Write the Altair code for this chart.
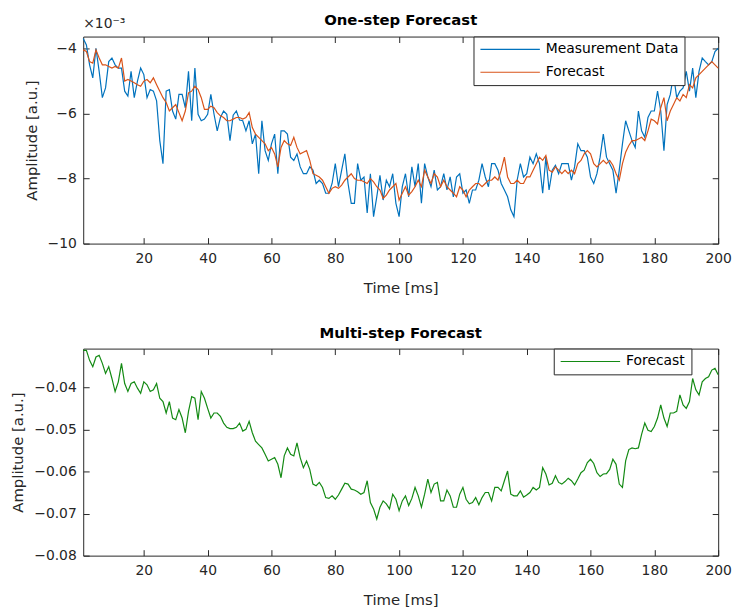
import altair as alt
import pandas as pd

time_ms = list(range(1, 201))

measured = [
    -3.69, -3.89, -4.50, -4.90, -3.99, -4.70, -5.51, -5.21, -4.40, -4.29,
    -4.50, -4.60, -4.60, -5.31, -5.46, -4.70, -5.51, -5.00, -4.60, -4.80,
    -5.51, -5.26, -5.31, -5.61, -6.83, -7.54, -5.31, -5.26, -5.92, -6.17,
    -5.41, -5.41, -5.82, -4.70, -6.22, -4.60, -6.02, -6.22, -6.17, -6.02,
    -5.41, -6.02, -6.53, -6.12, -5.92, -6.02, -6.83, -6.05, -5.92, -6.20,
    -6.22, -6.53, -6.22, -6.93, -6.63, -7.85, -6.22, -7.14, -7.44, -6.93,
    -6.63, -7.85, -6.53, -6.53, -6.63, -7.34, -7.44, -7.24, -7.64, -7.85,
    -7.85, -7.64, -7.74, -8.15, -8.05, -8.15, -8.45, -8.45, -8.15, -7.54,
    -8.25, -7.74, -7.24, -8.15, -8.76, -8.76, -7.54, -8.05, -7.95, -9.06,
    -7.85, -9.17, -8.56, -7.90, -8.66, -8.05, -8.25, -7.85, -8.76, -9.17,
    -8.25, -7.85, -8.56, -7.64, -8.25, -7.54, -8.76, -7.54, -7.95, -8.25,
    -7.74, -8.35, -8.25, -7.85, -8.35, -7.95, -8.56, -7.95, -7.85, -8.45,
    -8.35, -8.76, -8.35, -8.35, -8.05, -7.54, -7.95, -8.25, -7.54, -7.54,
    -7.74, -8.15, -8.35, -8.56, -8.96, -9.17, -8.05, -7.54, -7.95, -7.85,
    -7.34, -7.54, -7.24, -7.54, -8.45, -7.34, -8.35, -7.74, -7.59, -7.85,
    -7.54, -7.54, -7.54, -8.05, -7.64, -6.93, -7.14, -7.14, -7.34, -7.95,
    -8.15, -7.85, -7.34, -6.63, -7.34, -7.54, -7.74, -8.45, -7.74, -6.93,
    -6.22, -6.53, -6.83, -7.04, -5.92, -6.53, -6.73, -6.12, -5.92, -5.92,
    -5.31, -5.92, -7.14, -5.72, -5.41, -4.80, -5.51, -5.31, -5.21, -4.70,
    -5.31, -4.60, -5.51, -4.70, -4.29, -4.40, -4.50, -4.40, -4.09, -3.99,
]

forecast_one = [
    -4.04, -4.09, -4.40, -4.45, -4.04, -4.29, -4.50, -4.50, -4.55, -4.60,
    -4.55, -4.60, -4.29, -5.00, -4.95, -5.00, -5.05, -5.11, -5.16, -5.00,
    -4.95, -5.05, -4.90, -5.11, -5.31, -5.51, -5.66, -5.92, -5.82, -5.72,
    -5.97, -6.22, -5.92, -5.36, -5.31, -5.16, -5.26, -5.51, -5.87, -5.87,
    -5.77, -5.82, -5.97, -6.07, -6.12, -6.22, -6.22, -6.17, -6.12, -6.12,
    -6.17, -6.12, -5.97, -6.43, -6.63, -6.73, -6.83, -6.93, -7.14, -7.04,
    -7.24, -7.64, -7.04, -6.83, -6.93, -6.98, -6.73, -7.04, -7.24, -7.19,
    -7.14, -7.44, -7.85, -7.90, -7.95, -8.05, -8.25, -8.45, -8.30, -8.25,
    -8.30, -8.20, -8.05, -7.95, -7.85, -8.00, -8.05, -8.05, -8.10, -8.15,
    -8.00, -8.10, -8.25, -8.35, -8.61, -8.51, -8.35, -8.25, -8.15, -8.66,
    -8.45, -8.25, -8.51, -8.40, -8.25, -8.05, -8.25, -7.74, -7.95, -8.15,
    -7.85, -7.95, -8.25, -8.05, -8.25, -8.35, -8.45, -8.56, -8.25, -8.35,
    -8.56, -8.35, -8.25, -8.15, -8.15, -8.25, -8.15, -8.05, -8.05, -7.95,
    -8.05, -7.74, -7.34, -7.95, -8.15, -8.15, -8.05, -8.15, -8.15, -7.95,
    -7.95, -7.74, -7.54, -7.34, -7.44, -7.29, -7.74, -7.80, -7.64, -7.74,
    -7.85, -7.74, -7.85, -7.74, -7.85, -7.54, -7.44, -7.24, -7.14, -7.24,
    -7.54, -7.64, -7.54, -7.44, -7.54, -7.44, -7.59, -7.85, -8.05, -7.54,
    -7.19, -6.98, -6.83, -6.83, -6.78, -6.73, -6.83, -6.53, -6.17, -6.22,
    -6.32, -5.82, -5.51, -6.22, -5.92, -5.72, -5.51, -5.61, -5.41, -5.51,
    -5.11, -5.21, -4.90, -4.80, -4.70, -4.60, -4.50, -4.40, -4.50, -4.60,
]

forecast_multi = [
    -0.0312, -0.0312, -0.0336, -0.0351, -0.0328, -0.0324, -0.0343, -0.0367, -0.0351, -0.0379,
    -0.0410, -0.0387, -0.0343, -0.0391, -0.0410, -0.0391, -0.0387, -0.0402, -0.0414, -0.0387,
    -0.0394, -0.0410, -0.0406, -0.0391, -0.0426, -0.0434, -0.0461, -0.0434, -0.0473, -0.0477,
    -0.0453, -0.0473, -0.0508, -0.0457, -0.0422, -0.0426, -0.0477, -0.0410, -0.0426, -0.0450,
    -0.0473, -0.0461, -0.0461, -0.0469, -0.0485, -0.0495, -0.0498, -0.0498, -0.0495, -0.0485,
    -0.0504, -0.0500, -0.0481, -0.0508, -0.0528, -0.0536, -0.0544, -0.0559, -0.0575, -0.0571,
    -0.0567, -0.0583, -0.0615, -0.0563, -0.0544, -0.0559, -0.0563, -0.0532, -0.0567, -0.0591,
    -0.0575, -0.0595, -0.0630, -0.0634, -0.0626, -0.0638, -0.0662, -0.0664, -0.0658, -0.0666,
    -0.0656, -0.0642, -0.0628, -0.0630, -0.0642, -0.0644, -0.0648, -0.0654, -0.0650, -0.0622,
    -0.0674, -0.0689, -0.0713, -0.0685, -0.0670, -0.0677, -0.0689, -0.0654, -0.0666, -0.0693,
    -0.0670, -0.0658, -0.0681, -0.0664, -0.0638, -0.0658, -0.0685, -0.0654, -0.0618, -0.0650,
    -0.0630, -0.0626, -0.0670, -0.0670, -0.0644, -0.0658, -0.0685, -0.0685, -0.0654, -0.0638,
    -0.0666, -0.0677, -0.0674, -0.0662, -0.0679, -0.0662, -0.0650, -0.0650, -0.0670, -0.0638,
    -0.0638, -0.0646, -0.0622, -0.0599, -0.0654, -0.0658, -0.0658, -0.0646, -0.0661, -0.0656,
    -0.0650, -0.0638, -0.0644, -0.0638, -0.0591, -0.0606, -0.0632, -0.0628, -0.0610, -0.0626,
    -0.0630, -0.0624, -0.0616, -0.0622, -0.0632, -0.0618, -0.0603, -0.0597, -0.0579, -0.0571,
    -0.0581, -0.0603, -0.0612, -0.0606, -0.0605, -0.0595, -0.0571, -0.0583, -0.0630, -0.0638,
    -0.0575, -0.0548, -0.0544, -0.0546, -0.0544, -0.0512, -0.0485, -0.0502, -0.0505, -0.0493,
    -0.0473, -0.0442, -0.0473, -0.0493, -0.0461, -0.0461, -0.0457, -0.0418, -0.0442, -0.0450,
    -0.0434, -0.0379, -0.0406, -0.0418, -0.0387, -0.0379, -0.0375, -0.0359, -0.0355, -0.0370,
]

series_top = ["Measurement Data", "Forecast"]
colors_top = ["#0072BD", "#D95319"]
series_bottom = ["Forecast"]
colors_bottom = ["#138a13"]
x_ticks = [20, 40, 60, 80, 100, 120, 140, 160, 180, 200]
y_ticks_top = [-10, -8, -6, -4]
y_ticks_bottom = [-0.08, -0.07, -0.06, -0.05, -0.04]
exponent_label = ["×10⁻³"]

FONT = "DejaVu Sans"
INK = "#262626"
TICK = 6
W, H = 641, 209

top_df = pd.DataFrame({
    "time": time_ms + time_ms,
    "value": measured + forecast_one,
    "series": [series_top[0]] * len(measured) + [series_top[1]] * len(forecast_one),
})
bottom_df = pd.DataFrame({
    "time": time_ms,
    "value": forecast_multi,
    "series": [series_bottom[0]] * len(forecast_multi),
})

x_scale = alt.Scale(domain=[1, 200], nice=False, zero=False)
y_top_scale = alt.Scale(domain=[-10, -3.63], nice=False, zero=False)
y_bot_scale = alt.Scale(domain=[-0.08, -0.0308], nice=False, zero=False)


def x_axis_main():
    return alt.Axis(orient="bottom", values=x_ticks, title="Time [ms]", offset=-TICK,
                    tickSize=TICK, domain=False, grid=False, labelPadding=8,
                    titlePadding=15, labelFlush=False)


def x_axis_top():
    return alt.Axis(orient="top", values=x_ticks, title=None, offset=-TICK,
                    tickSize=TICK, domain=False, grid=False, labels=False)


def y_axis_main(vals, fmt):
    return alt.Axis(orient="left", values=vals, title="Amplitude [a.u.]", offset=-TICK,
                    tickSize=TICK, domain=False, grid=False, labelPadding=7,
                    titlePadding=8, labelFlush=False, format=fmt)


def y_axis_right(vals):
    return alt.Axis(orient="right", values=vals, title=None, offset=-TICK,
                    tickSize=TICK, domain=False, grid=False, labels=False)


def legend(x, y):
    return alt.Legend(orient="none", legendX=x, legendY=y, title=None,
                      strokeColor=INK, fillColor="white", padding=6,
                      symbolType="M-6,0H6", symbolSize=100, symbolStrokeWidth=1.2,
                      symbolOffset=24, labelOffset=29,
                      labelFont=FONT, labelFontSize=14, labelColor="black",
                      rowPadding=9, cornerRadius=0)


top_lines = alt.Chart(top_df).mark_line(strokeWidth=1.2).encode(
    x=alt.X("time:Q", scale=x_scale, axis=x_axis_main()),
    y=alt.Y("value:Q", scale=y_top_scale, axis=y_axis_main(y_ticks_top, "d")),
    color=alt.Color("series:N",
                    scale=alt.Scale(domain=series_top, range=colors_top),
                    legend=legend(394, 0)),
)
top_ghost = alt.Chart(top_df).mark_line(strokeOpacity=0).encode(
    x=alt.X("time:Q", scale=x_scale, axis=x_axis_top()),
    y=alt.Y("value:Q", scale=y_top_scale, axis=y_axis_right(y_ticks_top)),
)
exp_text = alt.Chart(pd.DataFrame({"t": exponent_label})).mark_text(
    align="left", baseline="alphabetic", font=FONT, fontSize=14, color=INK
).encode(text="t:N", x=alt.value(0), y=alt.value(-9))

top = alt.layer(top_lines, top_ghost, exp_text).resolve_axis(
    x="independent", y="independent"
).properties(width=W, height=H, title=alt.Title("One-step Forecast", offset=-11))

bot_lines = alt.Chart(bottom_df).mark_line(strokeWidth=1.2).encode(
    x=alt.X("time:Q", scale=x_scale, axis=x_axis_main()),
    y=alt.Y("value:Q", scale=y_bot_scale, axis=y_axis_main(y_ticks_bottom, ".2f")),
    color=alt.Color("series:N",
                    scale=alt.Scale(domain=series_bottom, range=colors_bottom),
                    legend=legend(475, 0)),
)
bot_ghost = alt.Chart(bottom_df).mark_line(strokeOpacity=0).encode(
    x=alt.X("time:Q", scale=x_scale, axis=x_axis_top()),
    y=alt.Y("value:Q", scale=y_bot_scale, axis=y_axis_right(y_ticks_bottom)),
)
bottom = alt.layer(bot_lines, bot_ghost).resolve_axis(
    x="independent", y="independent"
).properties(width=W, height=H, title=alt.Title("Multi-step Forecast", offset=7))

chart = alt.vconcat(top, bottom, spacing=29).resolve_scale(color="independent").properties(
    padding={"left": 10, "top": 9, "right": 5, "bottom": 2},
    background="white",
).configure_view(
    stroke=INK, strokeWidth=1
).configure_axis(
    labelFont=FONT, labelFontSize=14, labelColor=INK,
    titleFont=FONT, titleFontSize=15, titleFontWeight="normal", titleColor=INK,
    tickColor=INK, tickWidth=1,
).configure_title(
    font=FONT, fontSize=15, fontWeight="bold", color="black", anchor="middle"
)

chart.save("out.html", embed_options={"renderer": "svg", "actions": False})
